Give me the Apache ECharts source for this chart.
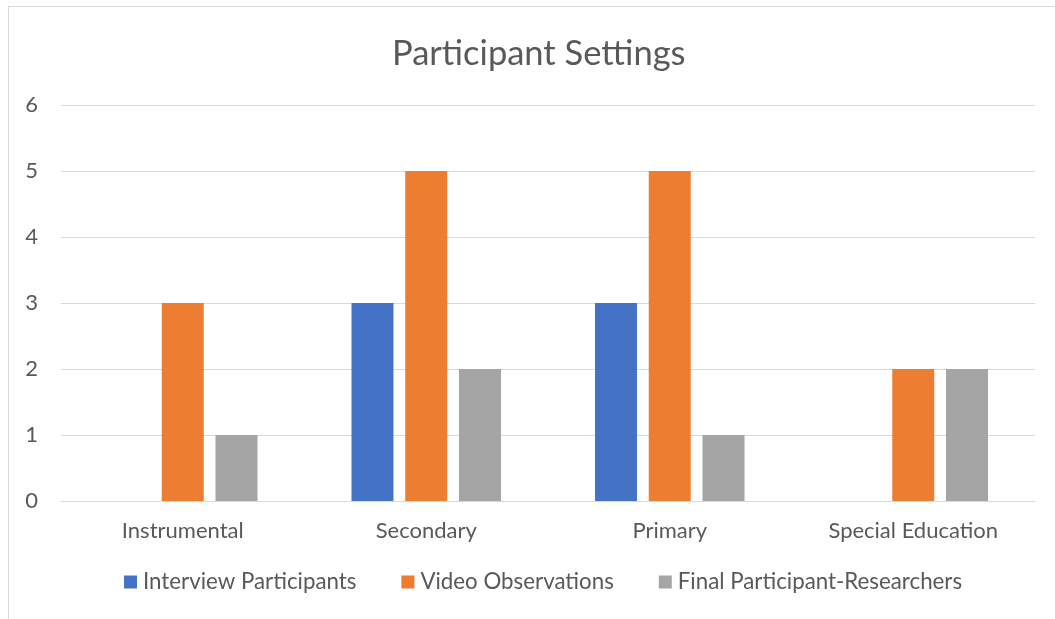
<!DOCTYPE html>
<html>
<head>
<meta charset="utf-8">
<script src="https://cdn.jsdelivr.net/npm/echarts@6/dist/echarts.min.js"></script>
<style>
html,body{margin:0;padding:0;background:#fff;overflow:hidden;}
#frame{position:absolute;left:8px;top:6px;width:1060px;height:630px;border:1px solid #d9d9d9;box-sizing:border-box;}
#chart{position:absolute;left:0;top:0;width:1055px;height:619px;}
</style>
</head>
<body>
<div id="frame"></div>
<div id="chart"></div>
<script>
const categories = ['Instrumental', 'Secondary', 'Primary', 'Special Education'];
const seriesNames = ['Interview Participants', 'Video Observations', 'Final Participant-Researchers'];
const interviewParticipants = [0, 3, 3, 0];
const videoObservations = [3, 5, 5, 2];
const finalParticipantResearchers = [1, 2, 1, 2];
const yTicks = [0, 1, 2, 3, 4, 5, 6];

const colors = ['#4472c4', '#ed7d31', '#a5a5a5'];
const font = 'Lato, Carlito, "Open Sans", sans-serif';
const chart = echarts.init(document.getElementById('chart'), null, {renderer: 'canvas'});
const values = [interviewParticipants, videoObservations, finalParticipantResearchers];
chart.setOption({
  backgroundColor: 'transparent',
  animation: false,
  title: {
    text: 'Participant Settings',
    left: 387,
    top: 31,
    textStyle: {fontFamily: font, fontSize: 34.5, fontWeight: 'normal', color: '#595959'}
  },
  legend: {
    data: seriesNames,
    bottom: 21,
    left: 119,
    itemWidth: 13,
    itemHeight: 13,
    itemGap: 45,
    icon: 'rect',
    textStyle: {fontFamily: font, fontSize: 22.3, color: '#595959', padding: [0, 0, 0, 1]}
  },
  grid: {left: 61, right: 20, top: 105, bottom: 118, containLabel: false},
  xAxis: {
    type: 'category',
    data: categories,
    axisLine: {lineStyle: {color: '#d9d9d9', width: 1}},
    axisTick: {show: false},
    axisLabel: {fontFamily: font, fontSize: 22, color: '#595959', margin: 19}
  },
  yAxis: {
    type: 'value',
    min: yTicks[0],
    max: yTicks[yTicks.length - 1],
    interval: 1,
    axisLine: {show: false},
    axisTick: {show: false},
    splitLine: {lineStyle: {color: '#d9d9d9', width: 1}},
    axisLabel: {fontFamily: font, fontSize: 22, color: '#595959', margin: 23}
  },
  series: seriesNames.map((n, i) => ({
    name: n,
    type: 'bar',
    data: values[i],
    barWidth: 42,
    barGap: '28%',
    itemStyle: {color: colors[i]}
  }))
});
</script>
</body>
</html>
